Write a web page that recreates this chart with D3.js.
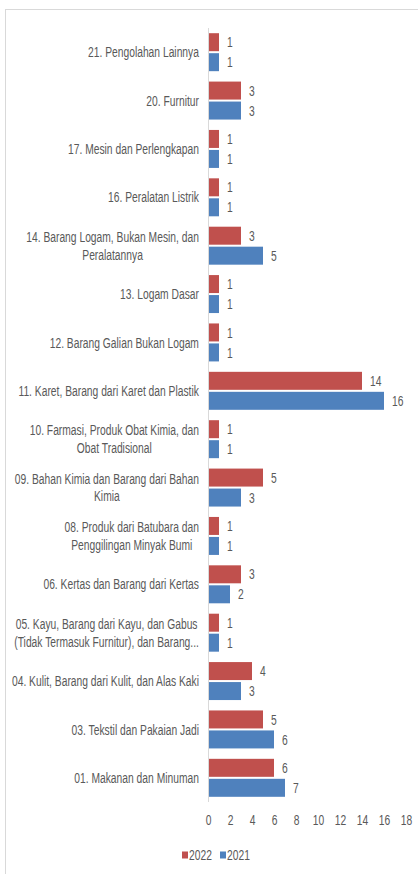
<!DOCTYPE html>
<html>
<head>
<meta charset="utf-8">
<script src="https://cdn.jsdelivr.net/npm/d3@7"></script>
<style>
  body { margin: 0; background: #fff; }
  text { font-family: "Liberation Sans Narrow", "Arial Narrow", "Liberation Sans", sans-serif; fill: #595959; }
</style>
</head>
<body>
<div id="chart-area"></div>
<script>
// data, top row first
const categories = [
  "21. Pengolahan Lainnya",
  "20. Furnitur",
  "17. Mesin dan Perlengkapan",
  "16. Peralatan Listrik",
  "14. Barang Logam, Bukan Mesin, dan\nPeralatannya",
  "13. Logam Dasar",
  "12. Barang Galian Bukan Logam",
  "11. Karet, Barang dari Karet dan Plastik",
  "10. Farmasi, Produk Obat Kimia, dan\nObat Tradisional",
  "09. Bahan Kimia dan Barang dari Bahan\nKimia",
  "08. Produk dari Batubara dan\nPenggilingan Minyak Bumi",
  "06. Kertas dan Barang dari Kertas",
  "05. Kayu, Barang dari Kayu, dan Gabus\n(Tidak Termasuk Furnitur), dan Barang...",
  "04. Kulit, Barang dari Kulit, dan Alas Kaki",
  "03. Tekstil dan Pakaian Jadi",
  "01. Makanan dan Minuman"
]
const values2022 = [1, 3, 1, 1, 3, 1, 1, 14, 1, 5, 1, 3, 1, 4, 5, 6]
const values2021 = [1, 3, 1, 1, 5, 1, 1, 16, 1, 3, 1, 2, 1, 3, 6, 7]
const seriesNames = ["2022", "2021"]
const seriesColors = ["#C0504D", "#4F81BD"]
const xTicks = [0, 2, 4, 6, 8, 10, 12, 14, 16, 18]

const W = 418, H = 874
const MARGIN = {LEFT: 208, RIGHT: 12, TOP: 28, BOTTOM: 72}
const FS = 14.5
const NARROW = 0.71 // no narrow font installed, squeeze horizontally

const data = categories.map((c, i) => ({name: c, v: [values2022[i], values2021[i]]}))

const svg = d3.select("#chart-area").append("svg")
  .attr("width", W)
  .attr("height", H)

// chart border
svg.append("rect")
  .attr("x", 5.5).attr("y", 9.5)
  .attr("width", W + 10).attr("height", H + 10)
  .attr("fill", "none")
  .attr("stroke", "#d9d9d9")

const x = d3.scaleLinear()
  .domain([0, 18])
  .range([MARGIN.LEFT, 406])

const y = d3.scaleBand()
  .domain(categories)
  .range([MARGIN.TOP, H - MARGIN.BOTTOM])
  .paddingInner(0.215)
  .paddingOuter(0.1075)

const ySub = d3.scaleBand()
  .domain(seriesNames)
  .range([0, y.bandwidth()])
  .paddingInner(0.1)

// x axis labels only
const xAxisCall = d3.axisBottom(x)
  .tickValues(xTicks)
  .tickSize(0)
  .tickPadding(13)
const xg = svg.append("g")
  .attr("transform", `translate(0,${H - MARGIN.BOTTOM})`)
  .call(xAxisCall)
xg.select(".domain").remove()
xg.selectAll("text")
  .attr("font-size", FS)
  .attr("font-family", null)
  .attr("fill", null)
  .attr("transform", `scale(${NARROW},1)`)

// bars
const groups = svg.selectAll("g.cat")
  .data(data)
  .enter().append("g")
    .attr("class", "cat")
    .attr("transform", d => `translate(0,${y(d.name)})`)

seriesNames.forEach((s, si) => {
  groups.append("rect")
    .attr("x", x(0))
    .attr("y", ySub(s))
    .attr("width", d => x(d.v[si]) - x(0))
    .attr("height", ySub.bandwidth())
    .attr("fill", seriesColors[si])

  groups.append("text")
    .attr("transform", d => `translate(${x(d.v[si]) + 8},${ySub(s) + ySub.bandwidth() / 2}) scale(${NARROW},1)`)
    .attr("dy", "0.35em")
    .attr("font-size", FS)
    .text(d => d.v[si])
})

// vertical axis line
svg.append("line")
  .attr("x1", x(0) + 0.5).attr("x2", x(0) + 0.5)
  .attr("y1", MARGIN.TOP).attr("y2", H - MARGIN.BOTTOM)
  .attr("stroke", "#d9d9d9")

// category labels: block right-aligned, lines centred
const LABEL_RIGHT = 199
const LINE_H = 17.5
groups.each(function(d) {
  const lines = d.name.split("\n")
  const t = d3.select(this).append("text")
    .attr("font-size", FS)
    .attr("text-anchor", "middle")
  lines.forEach((ln, i) => {
    t.append("tspan")
      .attr("x", 0)
      .attr("y", y.bandwidth() / 2 + (i - (lines.length - 1) / 2) * LINE_H)
      .attr("dy", "0.35em")
      .text(ln)
  })
  let maxW = 0
  t.selectAll("tspan").each(function() {
    maxW = Math.max(maxW, this.getComputedTextLength())
  })
  t.attr("transform", `translate(${LABEL_RIGHT - maxW * NARROW / 2},0) scale(${NARROW},1)`)
})

// legend
const legend = svg.append("g")
  .attr("transform", "translate(182,855)")
seriesNames.forEach((s, i) => {
  const lg = legend.append("g").attr("transform", `translate(${i * 38},0)`)
  lg.append("rect")
    .attr("x", 0).attr("y", -3.5)
    .attr("width", 6).attr("height", 7)
    .attr("fill", seriesColors[i])
  lg.append("text")
    .attr("transform", `translate(7,0) scale(${NARROW},1)`)
    .attr("dy", "0.35em")
    .attr("font-size", FS)
    .text(s)
})
</script>
</body>
</html>
